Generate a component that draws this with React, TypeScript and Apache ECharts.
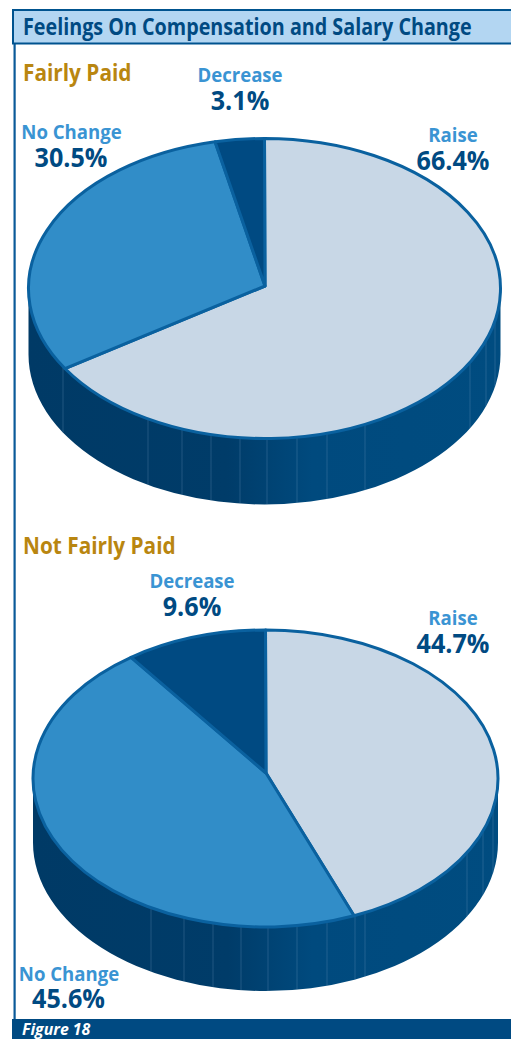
import React, { useEffect, useRef } from "react";
import * as echarts from "echarts";

const titleText = "Feelings On Compensation and Salary Change";
const figureText = "Figure 18";
const sliceNames = ["Raise", "No Change", "Decrease"];
const fairlyValues = [66.4, 30.5, 3.1];
const notFairlyValues = [44.7, 45.6, 9.6];
const sliceColors = ["#c8d7e6", "#318dc8", "#004a82"];
const fairlyFacets = [63, 148, 182, 211, 240, 267, 297, 327, 365, 470, 486, 495];
const notFairlyFacets = [151, 184, 213, 241, 268, 297, 327, 355, 365, 467, 483, 493];

const LINE = "#0a619f";
const NAVY = "#004a82";
const SKY = "#3a94d3";
const GOLD = "#b98610";
const FONT = "'Open Sans'";

const pies = [
  { name: "Fairly Paid", values: fairlyValues, facets: fairlyFacets, edgeNudge: [0, -0.0036, -0.0026], cx: 264.5, cy: 288.5, ax: 265, ay: 286, rx: 236, ry: 150, depth: 66 },
  { name: "Not Fairly Paid", values: notFairlyValues, facets: notFairlyFacets, edgeNudge: [0, -0.0096, -0.002], cx: 265.5, cy: 778.5, ax: 266, ay: 773, rx: 232.5, ry: 148.5, depth: 64 },
];

function sidePath(p: any) {
  const l = p.cx - p.rx, r = p.cx + p.rx;
  return `M${l} ${p.cy}A${p.rx} ${p.ry} 0 0 0 ${r} ${p.cy}L${r} ${p.cy + p.depth}A${p.rx} ${p.ry} 0 0 1 ${l} ${p.cy + p.depth}Z`;
}

function pieSeries(p: any) {
  const total = p.values.reduce((a: number, b: number) => a + b, 0);
  const at = (share: number) => {
    const t = share * 2 * Math.PI;
    return [p.cx + p.rx * Math.sin(t), p.cy - p.ry * Math.cos(t)];
  };
  const side = {
    type: "custom",
    coordinateSystem: "none",
    silent: true,
    data: [0],
    renderItem: () => ({
      type: "group",
      children: [
        {
          type: "path",
          shape: { pathData: sidePath(p) },
          style: {
            fill: new echarts.graphic.LinearGradient(0, 0, 1, 0, [
              { offset: 0, color: "#003a66" },
              { offset: 0.42, color: "#003c69" },
              { offset: 0.6, color: "#004a7e" },
              { offset: 1, color: "#004c80" },
            ]),
          },
        },
        ...p.facets.map((x: number) => {
          const k = (x - p.cx) / p.rx;
          const y = p.cy + p.ry * Math.sqrt(Math.max(0, 1 - k * k));
          return {
            type: "line",
            shape: { x1: x, y1: y, x2: x, y2: y + p.depth },
            style: { stroke: "rgba(120,160,195,0.28)", lineWidth: 1 },
          };
        }),
      ],
    }),
  };
  const top = {
    type: "custom",
    coordinateSystem: "none",
    silent: true,
    data: p.values.map((_: number, i: number) => i),
    renderItem: (params: any) => {
      const i = params.dataIndex;
      const from = p.values.slice(0, i).reduce((a: number, b: number) => a + b, 0) / total + p.edgeNudge[i];
      const to = i === p.values.length - 1 ? 1 : from - p.edgeNudge[i] + p.values[i] / total + p.edgeNudge[i + 1];
      const [x1, y1] = at(from);
      const [x2, y2] = at(to);
      return {
        type: "path",
        shape: {
          pathData: `M${p.ax} ${p.ay}L${x1} ${y1}A${p.rx} ${p.ry} 0 ${to - from > 0.5 ? 1 : 0} 1 ${x2} ${y2}Z`,
        },
        style: { fill: sliceColors[i], stroke: LINE, lineWidth: 3, lineJoin: "round" },
      };
    },
  };
  return [side, top];
}

const txt = (text: string, x: number, y: number, size: number, fill: string, align = "center", sx = 1, extra: any = {}) => ({
  type: "text",
  x,
  y,
  scaleX: sx,
  style: { text, fill, fontFamily: FONT, fontSize: size, fontWeight: "bold", align, verticalAlign: "middle", ...extra },
});

const labelItems = [
  { n: sliceNames[2], v: fairlyValues[2], nx: 240, vx: 240, ny: 74, vy: 100 },
  { n: sliceNames[1], v: fairlyValues[1], nx: 71.5, vx: 71, ny: 131, vy: 157 },
  { n: sliceNames[0], v: fairlyValues[0], nx: 453, vx: 453, ny: 134, vy: 160 },
  { n: sliceNames[2], v: notFairlyValues[2], nx: 192, vx: 192, ny: 580, vy: 606 },
  { n: sliceNames[0], v: notFairlyValues[0], nx: 453, vx: 453, ny: 617, vy: 643 },
  { n: sliceNames[1], v: notFairlyValues[1], nx: 69, vx: 68.5, ny: 973, vy: 998 },
];

export default function App() {
  const ref = useRef<HTMLDivElement>(null);
  useEffect(() => {
    const chart = echarts.init(ref.current!, undefined, { renderer: "svg" });
    chart.setOption({
      animation: false,
      backgroundColor: "#ffffff",
      series: pies.flatMap(pieSeries),
      graphic: [
        { type: "rect", shape: { x: 13.5, y: 44, width: 2.2, height: 976 }, style: { fill: "#0a5a99" } },
        { type: "rect", shape: { x: 13, y: 10, width: 500, height: 33.5 }, style: { fill: "#b3d6f2", stroke: "#00538f", lineWidth: 2 } },
        txt(titleText, 23, 26, 22.5, NAVY, "left", 0.877),
        { type: "rect", shape: { x: 12, y: 1019, width: 499, height: 20 }, style: { fill: NAVY } },
        txt(figureText, 22, 1029, 16, "#ffffff", "left", 0.99, { fontStyle: "italic" }),
        txt(pies[0].name, 23, 72, 22.5, GOLD, "left", 0.925),
        txt(pies[1].name, 23, 545, 22.5, GOLD, "left", 0.925),
        ...labelItems.flatMap((l) => [
          txt(l.n, l.nx, l.ny, 20, SKY, "center", 0.93),
          txt(`${l.v}%`, l.vx, l.vy, 26.5, NAVY, "center", 0.95),
        ]),
      ],
    });
    return () => chart.dispose();
  }, []);
  return <div ref={ref} style={{ position: "absolute", left: 0, top: 0, width: 511, height: 1039 }} />;
}
